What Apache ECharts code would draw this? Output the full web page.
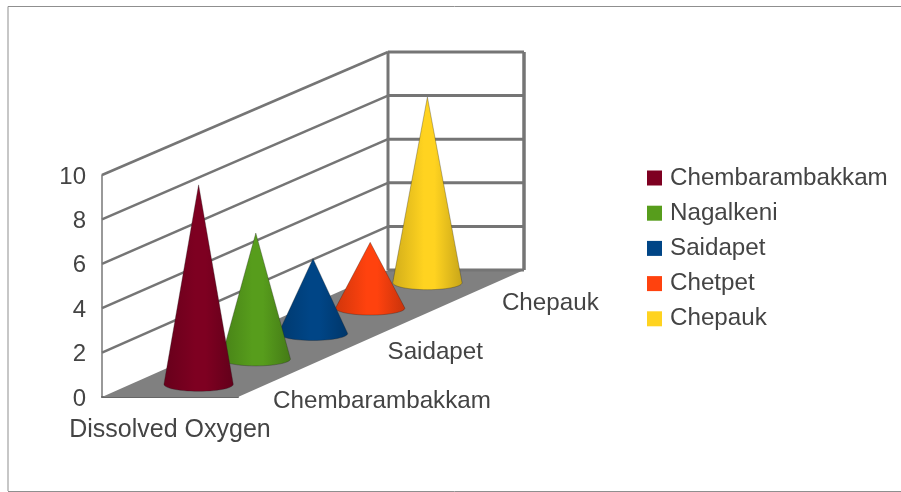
<!DOCTYPE html>
<html>
<head>
<meta charset="utf-8">
<title>Dissolved Oxygen</title>
<script src="https://cdn.jsdelivr.net/npm/echarts@6/dist/echarts.min.js"></script>
<style>
  html, body { margin: 0; padding: 0; background: #fff; }
  #main { width: 901px; height: 492px; }
</style>
</head>
<body>
<div id="main"></div>
<script>
// ---------- data
const categories = ["Dissolved Oxygen"];
const seriesNames = ["Chembarambakkam", "Nagalkeni", "Saidapet", "Chetpet", "Chepauk"];
const seriesValues = [9.0, 5.7, 3.4, 3.0, 8.5];
const seriesColors = ["#7e0021", "#579d1c", "#004586", "#ff420e", "#ffd320"];
const yTicks = [0, 2, 4, 6, 8, 10];
const depthTicks = ["Chembarambakkam", "Saidapet", "Chepauk"];

// ---------- the fake 3d box: how far the back of the box is from the front
const depthX = 286;
const depthY = -127;
const backShrink = 0.018;
const gridColor = "#757575";
const textColor = "#444";
const fontName = "Liberation Sans";

// t is 0 at the front of the box and 1 at the back, side is -1 .. 1 across the category
function project(api, side, value, t) {
  const c = api.coord([0, value]);
  const c0 = api.coord([0, 0]);
  const halfWidth = api.size([1, 0])[0] / 2;
  return [
    c[0] + side * halfWidth + depthX * t,
    c0[1] + depthY * t + (c[1] - c0[1]) * (1 - backShrink * t),
  ];
}

function line(a, b, width) {
  return {
    type: "line",
    shape: { x1: a[0], y1: a[1], x2: b[0], y2: b[1] },
    style: { stroke: gridColor, lineWidth: width },
  };
}

function shade(color, k) {
  const c = echarts.color.parse(color);
  return "rgb(" + Math.round(c[0] * k) + "," + Math.round(c[1] * k) + "," + Math.round(c[2] * k) + ")";
}

function renderBox(params, api) {
  const children = [];
  const floor = [
    project(api, -1, 0, 0),
    project(api, 1, 0, 0),
    project(api, 1, 0, 1),
    project(api, -1, 0, 1),
  ];
  children.push({ type: "polygon", shape: { points: floor }, style: { fill: "#808080" } });

  yTicks.forEach(function (tick) {
    const a = project(api, -1, tick, 0);
    const b = project(api, -1, tick, 1);
    const c = project(api, 1, tick, 1);
    if (tick > 0) children.push(line(a, b, 2.5));
    children.push(line(b, c, 3));
  });
  children.push(line(project(api, -1, 0, 1), project(api, -1, 10, 1), 3));
  children.push(line(project(api, 1, 0, 1), project(api, 1, 10, 1), 3.5));

  // only every second depth category gets a label, the others do not fit
  depthTicks.forEach(function (name) {
    const slot = seriesNames.indexOf(name);
    const p = project(api, 1, 0, (slot + 0.5) / seriesNames.length);
    children.push({
      type: "text",
      style: {
        text: name,
        x: p[0] + 6.5,
        y: p[1] + 17 + slot,
        fill: textColor,
        font: "24.2px '" + fontName + "'",
        align: "left",
        verticalAlign: "middle",
      },
    });
  });
  return { type: "group", children: children };
}

function renderCone(slot, color) {
  return function (params, api) {
    const t = (slot + 0.5) / seriesNames.length;
    const center = project(api, 0, 0, t);
    const top = project(api, 0, api.value(1), t);
    const halfWidth = api.size([1, 0])[0] * 0.255;
    const halfHeight = 7;

    // apex, then round the front half of the base ellipse
    const points = [top];
    for (let i = 0; i <= 28; i++) {
      const angle = (Math.PI * i) / 28;
      points.push([
        center[0] + halfWidth * Math.cos(angle),
        center[1] + halfHeight * Math.sin(angle),
      ]);
    }
    return {
      type: "polygon",
      shape: { points: points },
      style: {
        fill: new echarts.graphic.LinearGradient(0, 0, 1, 0, [
          { offset: 0, color: shade(color, 0.82) },
          { offset: 0.45, color: color },
          { offset: 0.6, color: color },
          { offset: 1, color: shade(color, 0.78) },
        ]),
        stroke: "rgba(30,30,30,0.3)",
        lineWidth: 1,
      },
    };
  };
}

const series = [
  {
    type: "custom",
    name: "box",
    silent: true,
    z: 1,
    data: [[0, 0]],
    renderItem: renderBox,
  },
];
seriesNames.forEach(function (name, i) {
  series.push({
    type: "custom",
    name: name,
    z: 10 - i, // nearer cones cover the ones behind
    itemStyle: { color: seriesColors[i] },
    data: [[0, seriesValues[i]]],
    renderItem: renderCone(i, seriesColors[i]),
  });
});

const myChart = echarts.init(document.getElementById("main"));
myChart.setOption({
  animation: false,
  backgroundColor: "#fff",
  textStyle: { fontFamily: fontName },
  graphic: [
    {
      type: "polyline",
      shape: { points: [[8, 491], [8, 6.5], [901, 6.5]] },
      style: { stroke: "#8f8f8f", lineWidth: 1, fill: null },
    },
    {
      type: "line",
      shape: { x1: 8, y1: 491.5, x2: 901, y2: 491.5 },
      style: { stroke: "#8f8f8f", lineWidth: 1 },
    },
  ],
  legend: {
    data: seriesNames,
    orient: "vertical",
    left: 647,
    top: 166,
    padding: 0,
    itemWidth: 15,
    itemHeight: 15,
    itemGap: 11.2,
    icon: "rect",
    textStyle: { color: textColor, fontSize: 24.2, fontFamily: fontName, padding: [0, 0, 0, 3] },
    selectedMode: false,
  },
  grid: { left: 102, top: 175, width: 136, height: 222 },
  xAxis: {
    type: "category",
    data: categories,
    axisTick: { show: false },
    axisLine: { lineStyle: { color: "#666", width: 2 } },
    axisLabel: { color: textColor, fontSize: 25, fontFamily: fontName, margin: 21 },
  },
  yAxis: {
    type: "value",
    min: 0,
    max: 10,
    interval: 2,
    axisLine: { show: true, lineStyle: { color: "#777", width: 1.5 } },
    axisTick: { show: false },
    splitLine: { show: false },
    axisLabel: { color: textColor, fontSize: 24, fontFamily: fontName, margin: 16, verticalAlign: "top", lineHeight: 4 },
  },
  series: series,
});
</script>
</body>
</html>
